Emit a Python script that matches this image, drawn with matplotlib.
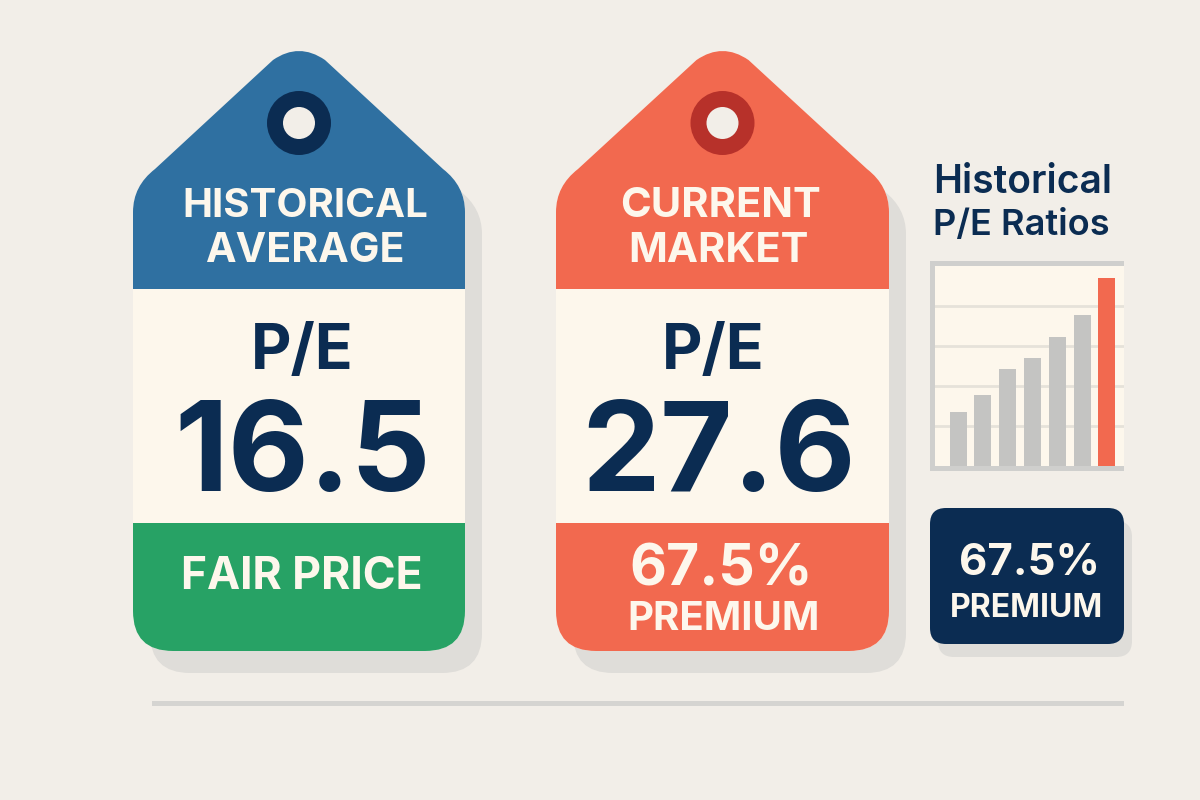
import matplotlib
matplotlib.use("Agg")
import matplotlib.pyplot as plt
from matplotlib.path import Path
from matplotlib.patches import PathPatch, Rectangle, Circle, FancyBboxPatch

plt.rcParams['font.family'] = ['Inter', 'DejaVu Sans']

# data
hist_pe = "16.5"
curr_pe = "27.6"
premium = "67.5%"
bar_values = [6.75, 8.9, 12.1, 13.5, 16.1, 18.9, 23.5]
bar_colors = ['#c4c4c2'] * 6 + ['#f2694f']
grid_values = [5, 10, 15, 20]

BG = '#f2eee8'
CREAM = '#fdf7ec'
NAVY = '#0b2c52'
BLUE = '#2f70a1'
GREEN = '#27a265'
CORAL = '#f2694f'
SHADOW = '#dfddd9'


def tag_path(l, r, top, bot, dx=0, dy=0):
    m = (l + r) / 2.0
    l, r, m = l + dx, r + dx, m + dx
    top, bot = top + dy, bot + dy
    verts = [(l, bot - 40), (l, 212 + dy),
             (l, 186 + dy), (l + 22, 169 + dy),
             (m - 26, 60 + dy),
             (m, top - 9), (m + 26, 60 + dy)]
    # curves for the apex and shoulders
    codes = [Path.MOVETO, Path.LINETO, Path.CURVE3, Path.CURVE3, Path.LINETO, Path.CURVE3, Path.CURVE3]
    verts += [(r - 22, 169 + dy), (r, 186 + dy), (r, 212 + dy), (r, bot - 40),
              (r, bot), (r - 40, bot), (l + 40, bot), (l, bot), (l, bot - 40), (l, bot - 40)]
    codes += [Path.LINETO, Path.CURVE3, Path.CURVE3, Path.LINETO,
              Path.CURVE3, Path.CURVE3, Path.LINETO, Path.CURVE3, Path.CURVE3, Path.CLOSEPOLY]
    return Path(verts, codes)


def draw_tag(ax, l, r, top_col, bot_col, ring_col):
    ax.add_patch(PathPatch(tag_path(l, r, 51, 651, 17, 22), fc=SHADOW, ec='none', zorder=1))
    body = PathPatch(tag_path(l, r, 51, 651), fc=CREAM, ec='none', zorder=2)
    ax.add_patch(body)
    for y0, y1, col in [(30, 289, top_col), (289, 523, CREAM), (523, 660, bot_col)]:
        band = Rectangle((l - 5, y0), r - l + 10, y1 - y0, fc=col, ec='none', zorder=3)
        ax.add_patch(band)
        band.set_clip_path(body)
    m = (l + r) / 2.0
    ax.add_patch(Circle((m, 123), 32, fc=ring_col, ec='none', zorder=4))
    ax.add_patch(Circle((m, 123), 16, fc=BG, ec='none', zorder=5))


def label(ax, x, y, s, size, color=NAVY, ha='center', weight='bold'):
    ax.text(x, y, s, fontsize=size, color=color, ha=ha, va='baseline', fontweight=weight, zorder=6)


fig = plt.figure(figsize=(12, 8), dpi=100, facecolor=BG)
ax = fig.add_axes([0, 0, 1, 1])
ax.set_xlim(0, 1200)
ax.set_ylim(800, 0)
ax.axis('off')

draw_tag(ax, 133, 465, BLUE, GREEN, NAVY)
draw_tag(ax, 556, 889, CORAL, CORAL, '#b7312a')

label(ax, 305, 217, "HISTORICAL", 29, CREAM)
label(ax, 304.5, 262, "AVERAGE", 29.5, CREAM)
label(ax, 302.5, 369, "P/E", 45)
label(ax, 303, 491, hist_pe, 90)
label(ax, 301.5, 589, "FAIR PRICE", 32, CREAM)

label(ax, 720, 217, "CURRENT", 30, CREAM)
label(ax, 718, 262, "MARKET", 30, CREAM)
label(ax, 713.5, 369, "P/E", 45)
label(ax, 718.5, 491, curr_pe, 90)
label(ax, 721.5, 586, premium, 41, CREAM)
label(ax, 724, 630, "PREMIUM", 29, CREAM)

label(ax, 933, 193, "Historical", 28, ha='left', weight='semibold')
label(ax, 933, 235, "P/E Ratios", 26, ha='left', weight='semibold')

# small bar chart
ax.add_patch(Rectangle((930, 261), 194, 210, fc=CREAM, ec='none', zorder=1))
ax.add_patch(Rectangle((930, 261), 194, 5, fc='#cfcfcd', ec='none', zorder=2))
ax.add_patch(Rectangle((930, 261), 5, 210, fc='#cfcfcd', ec='none', zorder=2))
ax.add_patch(Rectangle((930, 466), 194, 5, fc='#cfcfcd', ec='none', zorder=2))

ax2 = fig.add_axes([935 / 1200, 1 - 466 / 800, 189 / 1200, 200 / 800])
ax2.patch.set_alpha(0)
ax2.bar(range(len(bar_values)), bar_values, width=0.69, color=bar_colors, zorder=3)
for g in grid_values:
    ax2.axhline(g, color='#e6e2da', lw=2, zorder=1)
ax2.set_xlim(-0.93, 6.69)
ax2.set_ylim(0, 25)
ax2.axis('off')

# premium box
ax.add_patch(FancyBboxPatch((938, 521), 194, 136, boxstyle="round,pad=0,rounding_size=16", fc=SHADOW, ec='none', zorder=1))
ax.add_patch(FancyBboxPatch((930, 508), 194, 136, boxstyle="round,pad=0,rounding_size=16", fc=NAVY, ec='none', zorder=2))
label(ax, 1029.5, 575, premium, 31.5, CREAM)
label(ax, 1026, 617, "PREMIUM", 23, CREAM)

ax.add_patch(Rectangle((152, 701), 972, 5, fc='#d5d4d1', ec='none', zorder=1))

fig.savefig("out.png", dpi=100, facecolor=BG)
